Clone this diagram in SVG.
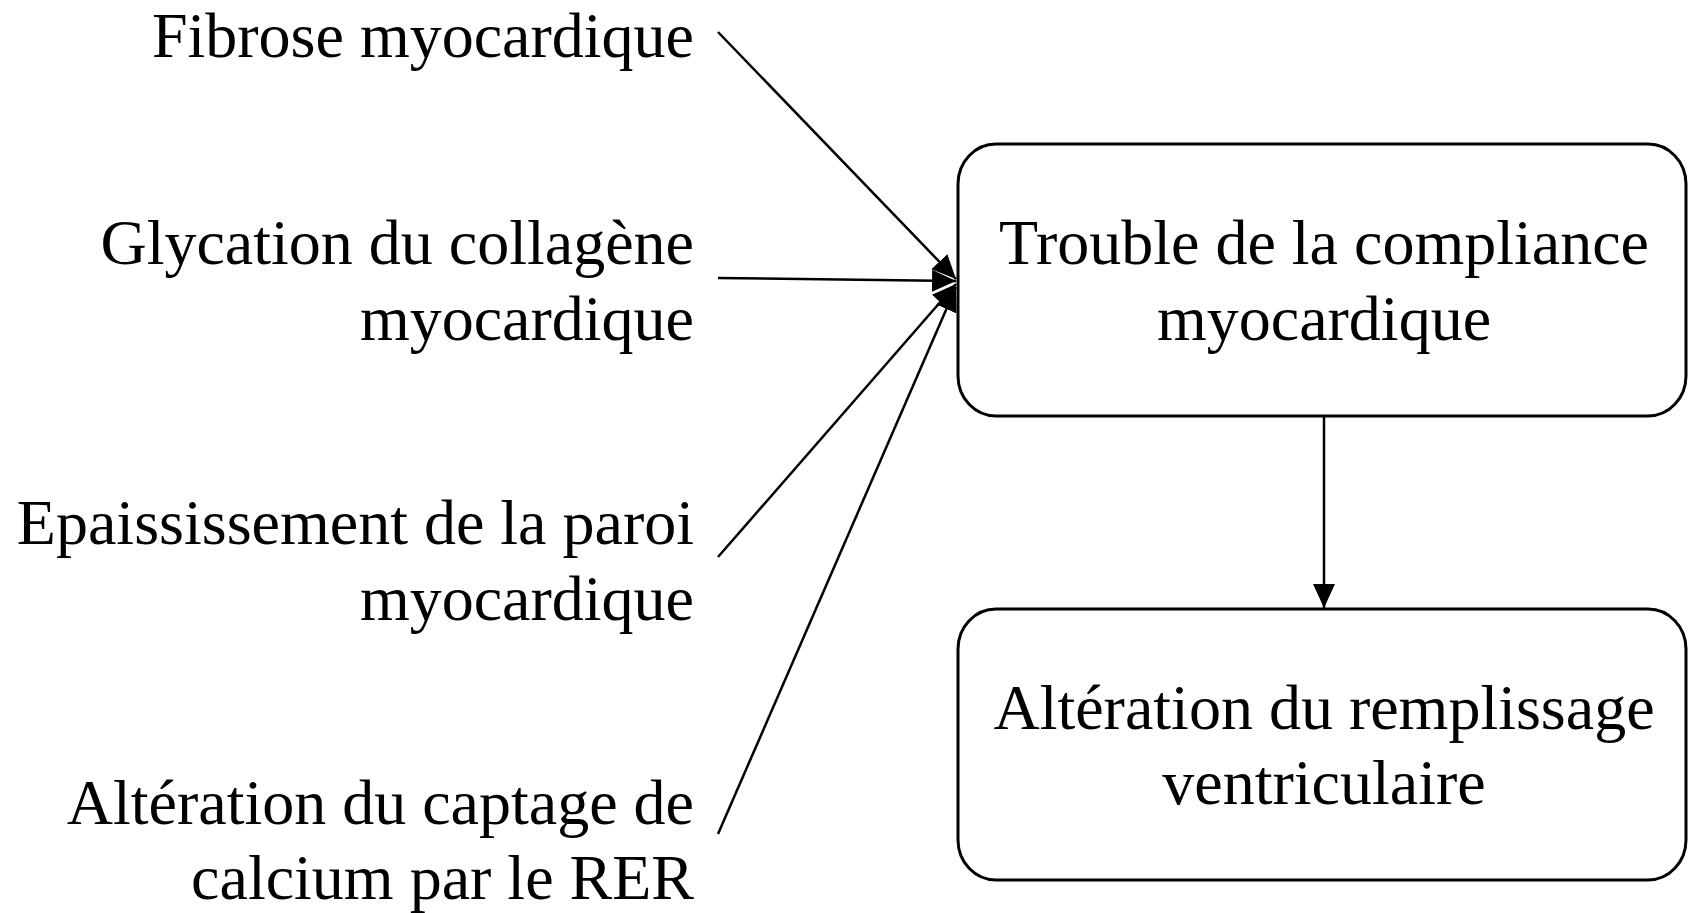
<svg xmlns="http://www.w3.org/2000/svg" width="1688" height="913" viewBox="0 0 1688 913">
  <defs>
    <style>
      text { font-family: "Liberation Serif", "Times New Roman", serif; font-size: 64px; fill: #000; }
      .lbl { text-anchor: end; }
      .ctr { text-anchor: middle; }
      .box { fill: #fff; stroke: #000; stroke-width: 3; }
      .conn { stroke: #000; stroke-width: 2.5; fill: none; }
    </style>
    <marker id="arr" markerUnits="userSpaceOnUse" markerWidth="28" markerHeight="24" refX="24" refY="12" orient="auto">
      <path d="M0,1 L24,12 L0,23 z" fill="#000"/>
    </marker>
  </defs>
  <rect width="1688" height="913" fill="#fff"/>

  <g id="connectors">
    <line class="conn" x1="718" y1="32" x2="956" y2="279" marker-end="url(#arr)"/>
    <line class="conn" x1="718" y1="278" x2="956" y2="281" marker-end="url(#arr)"/>
    <line class="conn" x1="718" y1="557" x2="956" y2="284" marker-end="url(#arr)"/>
    <line class="conn" x1="718" y1="834" x2="956" y2="287" marker-end="url(#arr)"/>
    <line class="conn" x1="1324" y1="416" x2="1324" y2="608" marker-end="url(#arr)"/>
  </g>

  <g id="n-fibrose">
    <text class="lbl" x="694" y="57">Fibrose myocardique</text>
  </g>
  <g id="n-glycation">
    <text class="lbl" x="694" y="264">Glycation du collagène</text>
    <text class="lbl" x="694" y="340">myocardique</text>
  </g>
  <g id="n-epaississement">
    <text class="lbl" x="694" y="544">Epaississement de la paroi</text>
    <text class="lbl" x="694" y="620">myocardique</text>
  </g>
  <g id="n-calcium">
    <text class="lbl" x="694" y="824">Altération du captage de</text>
    <text class="lbl" x="694" y="899">calcium par le RER</text>
  </g>

  <g id="n-compliance">
    <rect class="box" x="958" y="144" width="728" height="272" rx="38" ry="40"/>
    <text class="ctr" x="1324" y="264">Trouble de la compliance</text>
    <text class="ctr" x="1324" y="340">myocardique</text>
  </g>
  <g id="n-remplissage">
    <rect class="box" x="958" y="609" width="728" height="271" rx="38" ry="40"/>
    <text class="ctr" x="1324" y="729">Altération du remplissage</text>
    <text class="ctr" x="1324" y="804">ventriculaire</text>
  </g>
</svg>
